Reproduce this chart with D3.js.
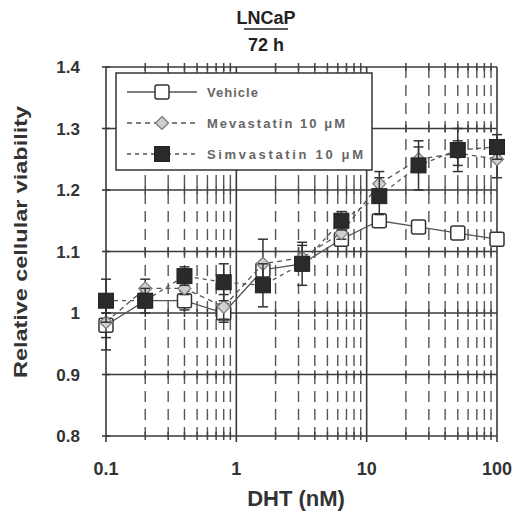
<!DOCTYPE html>
<html><head><meta charset="utf-8">
<script src="https://cdn.jsdelivr.net/npm/d3@7"></script>
<style>body{margin:0;background:#fff}svg{display:block}text{font-family:"Liberation Sans",Arial,sans-serif}</style>
</head><body>
<script>
const doses = [0.1,0.2,0.4,0.8,1.6,3.2,6.4,12.5,25,50,100];
const vehicle = [0.98,1.02,1.02,1.00,1.07,1.08,1.12,1.15,1.14,1.13,1.12];
const vehicleErr = [0.02,0.01,0.015,0.015,0.01,0.01,0.01,0.01,0.01,0.01,0.01];
const mevastatin = [0.985,1.04,1.04,1.01,1.08,1.09,1.13,1.21,1.25,1.26,1.25];
const mevastatinErr = [0.045,0.015,0.01,0.02,0.04,0.02,0.01,0.02,0.02,0.02,0.03];
const simvastatin = [1.02,1.02,1.06,1.05,1.045,1.08,1.15,1.19,1.24,1.265,1.27];
const simvastatinErr = [0.035,0.02,0.015,0.03,0.035,0.035,0.015,0.03,0.04,0.035,0.02];
const yTicks = [0.8,0.9,1.0,1.1,1.2,1.3,1.4];
const xTicks = [0.1,1,10,100];
const seriesNames = ["Vehicle","Mevastatin  10 μM","Simvastatin  10 μM"];
const titleLines = ["LNCaP","72 h"];
const xTitle = "DHT (nM)";
const yTitle = "Relative cellular viability";

const W=515,H=512;
const svg=d3.select("body").append("svg").attr("width",W).attr("height",H);
const x=d3.scaleLog().domain([0.1,100]).range([106,497]);
const y=d3.scaleLinear().domain([0.8,1.4]).range([436,67]);
const g=svg.append("g");
const gridCol="#3a3a3a";

const minors=[];
[0.1,1,10].forEach(d=>{for(let k=2;k<=9;k++)minors.push(d*k);});
g.selectAll(".minor").data(minors).join("line")
 .attr("x1",d=>x(d)).attr("x2",d=>x(d)).attr("y1",y(1.4)).attr("y2",y(0.8))
 .attr("stroke","#555").attr("stroke-width",1.4).attr("stroke-dasharray","11,7");
g.selectAll(".hmaj").data(yTicks).join("line")
 .attr("x1",x(0.1)).attr("x2",x(100)).attr("y1",d=>y(d)).attr("y2",d=>y(d))
 .attr("stroke",gridCol).attr("stroke-width",1.6);
g.selectAll(".vmaj").data(xTicks).join("line")
 .attr("x1",d=>x(d)).attr("x2",d=>x(d)).attr("y1",y(1.4)).attr("y2",y(0.8)+6)
 .attr("stroke",gridCol).attr("stroke-width",1.6);
yTicks.forEach(v=>{
  g.selectAll(null).data(minors).join("line")
   .attr("x1",d=>x(d)).attr("x2",d=>x(d)).attr("y1",y(v)-4).attr("y2",y(v)+4)
   .attr("stroke","#444").attr("stroke-width",1.5);
});
g.selectAll(".lt").data(yTicks).join("line")
 .attr("x1",x(0.1)-4).attr("x2",x(0.1)+4).attr("y1",d=>y(d)).attr("y2",d=>y(d))
 .attr("stroke",gridCol).attr("stroke-width",1.6);

svg.selectAll(".yl").data(yTicks).join("text")
 .attr("x",80).attr("y",d=>y(d)+6).attr("text-anchor","end")
 .attr("font-size",17).attr("font-weight","bold").attr("fill","#333")
 .text(d=>d===1?"1":d3.format(".1f")(d));
svg.selectAll(".xl").data(xTicks).join("text")
 .attr("x",d=>x(d)).attr("y",475).attr("text-anchor","middle")
 .attr("font-size",18).attr("font-weight","bold").attr("fill","#333")
 .text(d=>String(d));
svg.append("text").attr("x",296).attr("y",506).attr("text-anchor","middle")
 .attr("font-size",22).attr("font-weight","bold").attr("fill","#333").text(xTitle);
svg.append("text").attr("transform","translate(27,242) rotate(-90)").attr("text-anchor","middle")
 .attr("font-size",19).attr("font-weight","bold").attr("fill","#333")
 .attr("textLength",272).attr("lengthAdjust","spacingAndGlyphs").text(yTitle);
svg.append("text").attr("x",266).attr("y",24).attr("text-anchor","middle")
 .attr("font-size",18).attr("font-weight","bold").attr("fill","#222").text(titleLines[0]);
svg.append("line").attr("x1",244).attr("x2",288).attr("y1",29).attr("y2",29).attr("stroke","#222").attr("stroke-width",1.5);
svg.append("text").attr("x",266).attr("y",51).attr("text-anchor","middle")
 .attr("font-size",18).attr("font-weight","bold").attr("fill","#222").text(titleLines[1]);

const series=[
 {name:seriesNames[0],vals:vehicle,err:vehicleErr,dash:null,marker:"open",tl:51},
 {name:seriesNames[1],vals:mevastatin,err:mevastatinErr,dash:"5,4",marker:"diamond",tl:138},
 {name:seriesNames[2],vals:simvastatin,err:simvastatinErr,dash:"4,4",marker:"filled",tl:156}
];
const line=d3.line().x(d=>x(d[0])).y(d=>y(d[1]));
function drawMarker(sel,type,cx,cy){
  if(type==="open"){
    sel.append("rect").attr("x",cx-7).attr("y",cy-7).attr("width",14).attr("height",14).attr("rx",2)
      .attr("fill","#fff").attr("stroke","#333").attr("stroke-width",1.5);
  } else if(type==="filled"){
    sel.append("rect").attr("x",cx-7.5).attr("y",cy-7.5).attr("width",15).attr("height",15)
      .attr("fill","#2a2a2a").attr("stroke","#222").attr("stroke-width",1);
  } else {
    sel.append("path").attr("d",`M${cx},${cy-6.5}L${cx+6.5},${cy}L${cx},${cy+6.5}L${cx-6.5},${cy}Z`)
      .attr("fill","#cfcfcf").attr("stroke","#777").attr("stroke-width",1.2);
  }
}
[0,1,2].forEach(i=>{
  const s=series[i];
  const pts=doses.map((d,j)=>[d,s.vals[j],s.err[j]]);
  const sg=svg.append("g");
  sg.append("path").attr("d",line(pts)).attr("fill","none").attr("stroke","#555")
    .attr("stroke-width",1.3).attr("stroke-dasharray",s.dash);
  pts.forEach(p=>{
    const cx=x(p[0]);
    sg.append("line").attr("x1",cx).attr("x2",cx).attr("y1",y(p[1]-p[2])).attr("y2",y(p[1]+p[2]))
      .attr("stroke","#333").attr("stroke-width",1.5);
    [p[1]-p[2],p[1]+p[2]].forEach(v=>sg.append("line").attr("x1",cx-5).attr("x2",cx+5)
      .attr("y1",y(v)).attr("y2",y(v)).attr("stroke","#333").attr("stroke-width",1.5));
  });
  pts.forEach(p=>drawMarker(sg,s.marker,x(p[0]),y(p[1])));
});

const lg=svg.append("g");
lg.append("rect").attr("x",116).attr("y",73).attr("width",256).attr("height",97)
  .attr("fill","#fff").attr("stroke","#333").attr("stroke-width",1.5);
series.forEach((s,i)=>{
  const ly=92+i*31;
  lg.append("line").attr("x1",127).attr("x2",197).attr("y1",ly).attr("y2",ly)
    .attr("stroke","#555").attr("stroke-width",1.3).attr("stroke-dasharray",s.dash);
  drawMarker(lg,s.marker,162,ly);
  lg.append("text").attr("x",207).attr("y",ly+5).attr("font-size",13).attr("font-weight","bold")
    .attr("fill","#666").attr("textLength",s.tl).attr("lengthAdjust","spacing").text(s.name);
});
</script>
</body></html>
